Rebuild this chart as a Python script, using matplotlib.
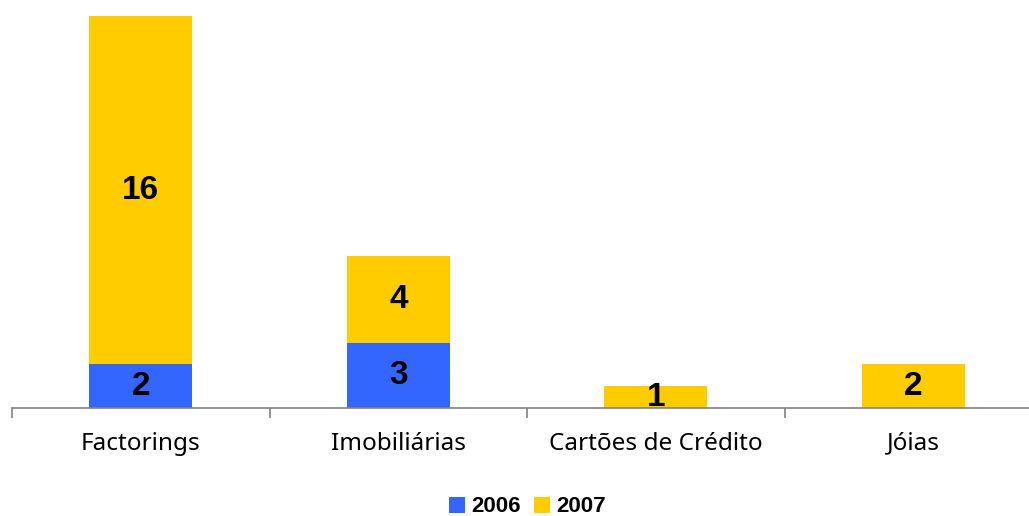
import matplotlib
matplotlib.use("Agg")
import matplotlib.pyplot as plt
import numpy as np

categories = ["Factorings", "Imobiliárias", "Cartões de Crédito", "Jóias"]
series_names = ["2006", "2007"]
values_2006 = [2, 3, 0, 0]
values_2007 = [16, 4, 1, 2]

blue = "#3366FF"
yellow = "#FFCC00"
plt.rcParams["font.family"] = ["Noto Sans", "DejaVu Sans"]
num_font = ["Liberation Sans", "DejaVu Sans"]

fig = plt.figure(figsize=(10.29, 5.16), dpi=100)
ax = fig.add_axes([12/1029, 1 - 408/516, 1030/1029, 392/516])

x = np.arange(len(categories))
w = 0.4
b1 = ax.bar(x, values_2006, w, color=blue, label=series_names[0], zorder=2)
b2 = ax.bar(x, values_2007, w, bottom=values_2006, color=yellow, label=series_names[1], zorder=2)

for i in range(len(categories)):
    if values_2006[i] > 0:
        ax.text(x[i], values_2006[i] / 2, str(values_2006[i]), ha="center", va="center",
                fontsize=24, fontweight="bold", family=num_font, color="black", zorder=4)
    if values_2007[i] > 0:
        ax.text(x[i], values_2006[i] + values_2007[i] / 2, str(values_2007[i]), ha="center", va="center",
                fontsize=24, fontweight="bold", family=num_font, color="black", zorder=4)

ax.set_xlim(-0.5, len(categories) - 0.5)
ax.set_ylim(0, 18)
for s in ["top", "right", "left"]:
    ax.spines[s].set_visible(False)
ax.spines["bottom"].set_color("#808080")
ax.spines["bottom"].set_linewidth(1.2)
ax.spines["bottom"].set_zorder(3)
ax.set_yticks([])
ax.set_xticks(np.arange(-0.5, len(categories), 1.0))
ax.set_xticklabels([])
ax.tick_params(axis="x", which="major", length=7, color="#808080", width=1.2, direction="out")
ax.set_xticks(x, minor=True)
ax.set_xticklabels(categories, minor=True, fontsize=17.5, color="black")
ax.tick_params(axis="x", which="minor", length=0, pad=17)

leg = fig.legend(handles=[b1, b2], labels=series_names, loc="center", bbox_to_anchor=(527/1029, 1 - 507/516),
                 ncol=2, frameon=False, handlelength=0.75, handleheight=0.75, handletextpad=0.25,
                 columnspacing=0.6, borderpad=0, prop={"family": num_font, "size": 16, "weight": "bold"})

fig.savefig("out.png", dpi=100)
